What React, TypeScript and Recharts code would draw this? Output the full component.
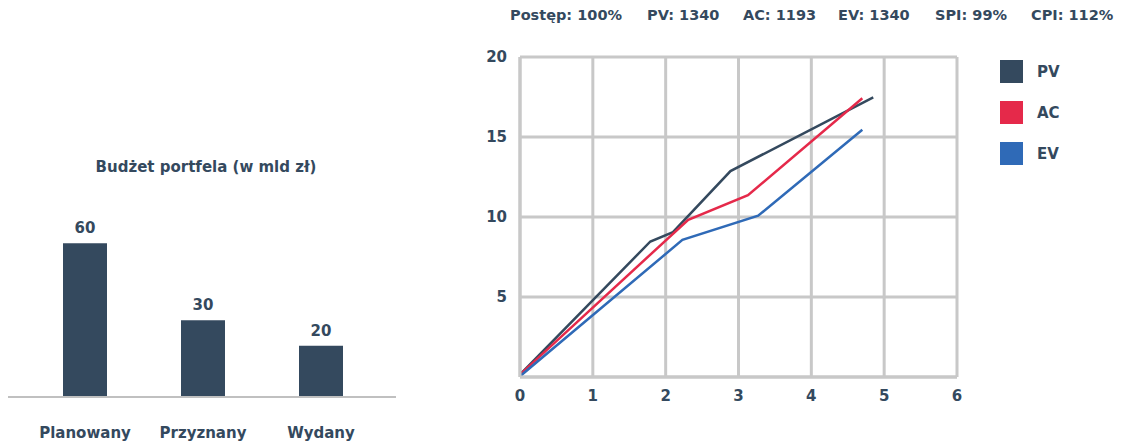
import React from 'react';
import { BarChart, Bar, XAxis, YAxis, LabelList, LineChart, Line, CartesianGrid } from 'recharts';

const budgetCategories = ['Planowany', 'Przyznany', 'Wydany'];
const budgetValues = [60, 30, 20];

const pvX = [0, 1.79, 2.1, 2.89, 4.85];
const pvY = [0.15, 8.47, 9.05, 12.87, 17.48];
const acX = [0, 2.31, 3.13, 4.7];
const acY = [0.15, 9.83, 11.36, 17.42];
const evX = [0, 2.23, 3.27, 4.7];
const evY = [0.05, 8.57, 10.08, 15.45];

const xTicks = [0, 1, 2, 3, 4, 5, 6];
const yTicks = [0, 5, 10, 15, 20];

const headerItems = ['Postęp: 100%', 'PV: 1340', 'AC: 1193', 'EV: 1340', 'SPI: 99%', 'CPI: 112%'];
const legendItems = ['PV', 'AC', 'EV'];

const DARK = '#34495e';
const RED = '#e5294a';
const BLUE = '#2f6ab7';
const GRID = '#c8c8c8';
const FONT = '"DejaVu Sans", sans-serif';

const budgetData = budgetCategories.map((c, i) => ({ name: c, value: budgetValues[i] }));
const toPts = (xs: number[], ys: number[]) => xs.map((x, i) => ({ x, y: ys[i] }));
const pvData = toPts(pvX, pvY);
const acData = toPts(acX, acY);
const evData = toPts(evX, evY);
const legendColors = [DARK, RED, BLUE];

const CatTick = (props: any) => {
  const { x, y, payload } = props;
  return (
    <text x={x} y={y + 28} textAnchor="middle" dominantBaseline="middle" fill={DARK}
      style={{ fontFamily: FONT, fontWeight: 700, fontSize: 15 }}>
      {payload.value}
    </text>
  );
};

export default function App() {
  const tickStyle = { fontFamily: FONT, fontWeight: 700, fontSize: 15, fill: DARK };
  const lefts = [510, 647, 743, 838, 935, 1031];
  return (
    <div style={{ position: 'absolute', left: 0, top: 0, width: 1121, height: 445, background: '#fff', fontFamily: FONT }}>
      {headerItems.map((t, i) => (
        <div key={t} style={{ position: 'absolute', left: lefts[i], top: 7, fontSize: 14.5, fontWeight: 700, color: DARK, whiteSpace: 'nowrap' }}>{t}</div>
      ))}
      <div style={{ position: 'absolute', left: 0, top: 158, width: 412, textAlign: 'center', fontSize: 15, fontWeight: 700, color: DARK, whiteSpace: 'nowrap' }}>
        Budżet portfela (w mld zł)
      </div>
      <div style={{ position: 'absolute', left: 0, top: 0 }}>
        <BarChart width={410} height={445} data={budgetData} margin={{ top: 192, right: 14, bottom: 8, left: 8 }}>
          <XAxis dataKey="name" axisLine={{ stroke: '#c0c0c0', strokeWidth: 2 }} tickLine={false}
            padding={{ left: 18, right: 16 }} tick={<CatTick />} height={40} interval={0} />
          <YAxis hide domain={[0, 80]} />
          <Bar dataKey="value" fill={DARK} barSize={44} isAnimationActive={false}>
            <LabelList dataKey="value" position="top" offset={10} fill={DARK}
              style={{ fontFamily: FONT, fontWeight: 700, fontSize: 15 }} />
          </Bar>
        </BarChart>
      </div>
      <div style={{ position: 'absolute', left: 470, top: 0 }}>
        <LineChart width={520} height={445} margin={{ top: 57, right: 33, bottom: 38, left: 0 }}>
          <CartesianGrid stroke={GRID} strokeWidth={3} horizontalValues={yTicks} verticalValues={xTicks} />
          <XAxis type="number" dataKey="x" domain={[0, 6]} ticks={xTicks} allowDataOverflow
            axisLine={{ stroke: GRID, strokeWidth: 3 }} tickLine={false} tickSize={0} tickMargin={13}
            tick={tickStyle} height={30} />
          <YAxis type="number" dataKey="y" domain={[0, 20]} ticks={yTicks} width={50}
            axisLine={{ stroke: GRID, strokeWidth: 3 }} tickLine={false} tickSize={0} tickMargin={13}
            tick={tickStyle} tickFormatter={(v: number) => (v === 0 ? '' : String(v))} />
          <Line data={pvData} dataKey="y" stroke={DARK} strokeWidth={2.5} dot={false} isAnimationActive={false} />
          <Line data={acData} dataKey="y" stroke={RED} strokeWidth={2.5} dot={false} isAnimationActive={false} />
          <Line data={evData} dataKey="y" stroke={BLUE} strokeWidth={2.5} dot={false} isAnimationActive={false} />
        </LineChart>
      </div>
      {legendItems.map((t, i) => (
        <div key={t} style={{ position: 'absolute', left: 1000, top: 60 + i * 41, height: 23, display: 'flex', alignItems: 'center' }}>
          <div style={{ width: 23, height: 23, background: legendColors[i] }} />
          <div style={{ marginLeft: 14, fontSize: 15, fontWeight: 700, color: DARK }}>{t}</div>
        </div>
      ))}
    </div>
  );
}
